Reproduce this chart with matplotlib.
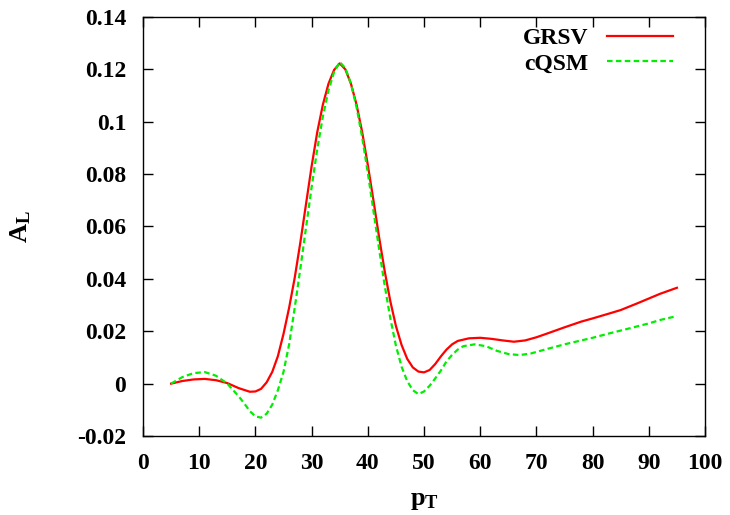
import matplotlib
matplotlib.use("Agg")
import matplotlib.pyplot as plt

# p_T grid and asymmetry values
pt_grsv = [5, 7, 9, 11, 13, 15, 17, 19, 20, 21, 22, 23, 24, 25, 26, 27, 28, 29,
           30, 31, 32, 33, 34, 35, 36, 37, 38, 39, 40, 41, 42, 43, 44, 45, 46,
           47, 48, 49, 50, 51, 52, 53, 54, 55, 56, 58, 60, 62, 64, 66, 68, 70,
           72, 75, 78, 80, 83, 85, 88, 90, 92, 95]
al_grsv = [0.0, 0.0010, 0.0016, 0.0018, 0.0013, 0.0002, -0.0017, -0.0031,
           -0.0030, -0.0020, 0.0005, 0.0045, 0.0105, 0.0190, 0.0290, 0.0405,
           0.0540, 0.0685, 0.0830, 0.0960, 0.1065, 0.1145, 0.1198, 0.1223,
           0.1200, 0.1145, 0.1065, 0.0960, 0.0835, 0.0700, 0.0560, 0.0430,
           0.0315, 0.0220, 0.0148, 0.0095, 0.0062, 0.0046, 0.0043, 0.0052,
           0.0075, 0.0104, 0.0130, 0.0150, 0.0163, 0.0173, 0.0175, 0.0171,
           0.0165, 0.0160, 0.0165, 0.0177, 0.0192, 0.0215, 0.0237, 0.0249,
           0.0268, 0.0281, 0.0307, 0.0325, 0.0343, 0.0366]

pt_cqsm = [5, 7, 9, 11, 13, 15, 17, 18, 19, 20, 21, 22, 23, 24, 25, 26, 27, 28,
           29, 30, 31, 32, 33, 34, 35, 36, 37, 38, 39, 40, 41, 42, 43, 44, 45,
           46, 47, 48, 49, 50, 51, 52, 53, 54, 55, 56, 57, 59, 61, 63, 65, 67,
           69, 72, 75, 78, 80, 83, 86, 88, 90, 92, 95]
al_cqsm = [0.0, 0.0025, 0.0040, 0.0044, 0.0030, 0.0000, -0.0048, -0.0075,
           -0.0105, -0.0125, -0.0130, -0.0115, -0.0080, -0.0025, 0.0045,
           0.0150, 0.0290, 0.0440, 0.0595, 0.0750, 0.0895, 0.1020, 0.1120,
           0.1190, 0.1228, 0.1205, 0.1145, 0.1055, 0.0940, 0.0805, 0.0660,
           0.0515, 0.0375, 0.0250, 0.0145, 0.0065, 0.0010, -0.0025, -0.0040,
           -0.0030, -0.0008, 0.0020, 0.0050, 0.0085, 0.0110, 0.0130, 0.0143,
           0.0150, 0.0143, 0.0125, 0.0113, 0.0109, 0.0115, 0.0133, 0.0150,
           0.0165, 0.0175, 0.0192, 0.0208, 0.0219, 0.0230, 0.0243, 0.0258]

x_ticks = [0, 10, 20, 30, 40, 50, 60, 70, 80, 90, 100]
y_ticks = [-0.02, 0, 0.02, 0.04, 0.06, 0.08, 0.1, 0.12, 0.14]
y_tick_labels = ["-0.02", "0", "0.02", "0.04", "0.06", "0.08", "0.1", "0.12", "0.14"]

plt.rcParams["font.family"] = ["Liberation Serif", "DejaVu Serif"]
plt.rcParams["font.weight"] = "bold"
plt.rcParams["mathtext.fontset"] = "custom"
plt.rcParams["mathtext.rm"] = "Liberation Serif:bold"
plt.rcParams["mathtext.it"] = "Liberation Serif:bold"
plt.rcParams["mathtext.bf"] = "Liberation Serif:bold"

fig = plt.figure(figsize=(7.3, 5.15), dpi=100)
ax = fig.add_axes([0.1959, 0.1534, 0.7699, 0.8136])

ax.plot(pt_grsv, al_grsv, color="#ff0000", lw=1.6, label="GRSV")
ax.plot(pt_cqsm, al_cqsm, color="#00ee00", lw=1.6, dashes=(2.5, 1.5), label="cQSM")

ax.set_xlim(0, 100)
ax.set_ylim(-0.02, 0.14)
ax.set_xticks(x_ticks)
ax.set_xticklabels([str(t) for t in x_ticks])
ax.set_yticks(y_ticks)
ax.set_yticklabels(y_tick_labels)
ax.tick_params(direction="in", length=7, width=1, top=True, right=True,
               labelsize=17, colors="black")
ax.tick_params(axis="x", pad=12)
ax.tick_params(axis="y", pad=12)
for sp in ax.spines.values():
    sp.set_linewidth(1.0)

ax.set_xlabel(r"$\mathrm{p_T}$", fontsize=19, labelpad=12)
ax.set_ylabel(r"$\mathrm{A_L}$", fontsize=19, labelpad=32)

ax.legend(loc="upper right", frameon=False, markerfirst=False, fontsize=17,
          handlelength=2.8, handletextpad=0.8, labelspacing=0.15,
          borderaxespad=0.2, bbox_to_anchor=(0.968, 1.008))

fig.savefig("out.png", dpi=100)
